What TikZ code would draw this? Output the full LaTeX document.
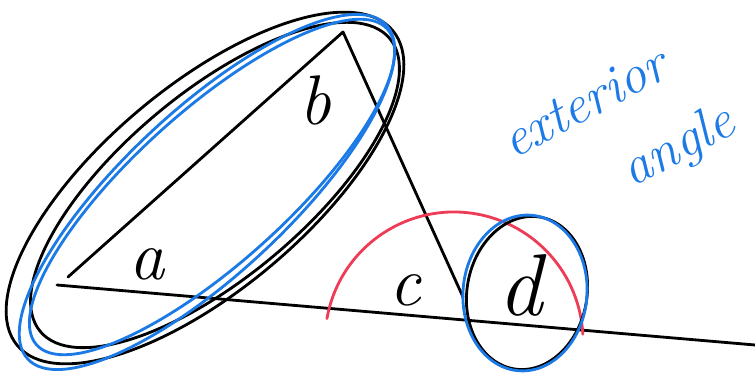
\documentclass[tikz,border=0pt]{standalone}
\usepackage{amsmath}
\usepackage{tikz}
\definecolor{penblue}{RGB}{28,122,230}
\definecolor{penred}{RGB}{238,60,86}
\tikzset{
  pen/.style={line width=1.6pt,line cap=round,line join=round},
  bluepen/.style={pen,draw=penblue},
  redpen/.style={pen,draw=penred},
  lbl/.style={font=\fontsize{40}{40}\selectfont\itshape,inner sep=0pt},
  note/.style={font=\fontsize{31}{46}\selectfont\itshape,text=penblue,rotate=28,align=left,inner sep=0pt},
}

\begin{document}
\begin{tikzpicture}[x=0.02cm,y=-0.02cm]
  \useasboundingbox (0,0) rectangle (755,377);
  \coordinate (A) at (68,277);
  \coordinate (A0) at (57,285);
  \coordinate (B) at (343,32);
  \coordinate (C) at (463,297);
  \coordinate (E) at (755,345);
  \coordinate (O) at (454,341);
  % triangle and the line past C
  \draw[pen] (A) -- (B) -- (C);
  \draw[pen] (A0) -- (E);
  % loops round a and b
  \draw[pen,rotate around={40:(205,188)}] (205,188) ellipse (245 and 102);
  \draw[pen,rotate around={40:(215,185)}] (215,185) ellipse (228 and 92);
  \draw[bluepen,rotate around={43:(207,192)}] (207,192) ellipse (245 and 82);
  \draw[bluepen,rotate around={42:(212,187)}] (212,187) ellipse (236 and 76);
  % the angle at C
  \draw[redpen] (O) ++(190:129) arc[start angle=190,end angle=357,radius=129];
  % loop round d
  \draw[pen,rotate around={-10:(527,293)}] (527,293) ellipse (60 and 77);
  \draw[bluepen,rotate around={-5:(525,293)}] (525,293) ellipse (62 and 78);
  % labels
  \node[lbl] (la) at (147,264) {a};
  \node[lbl] (lb) at (315,100) {b};
  \node[lbl] (lc) at (405,290) {c};
  \node[lbl,font=\fontsize{50}{50}\selectfont\itshape] (ld) at (520,285) {d};
  \node[note] (ext) at (620,135) {exterior\\\hspace*{1.85cm}angle};
\end{tikzpicture}
\end{document}
